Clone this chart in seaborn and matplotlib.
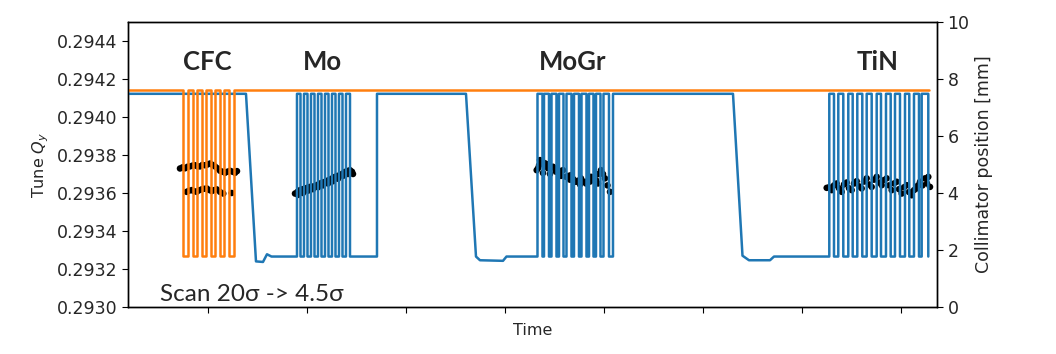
import matplotlib
matplotlib.use("Agg")
import matplotlib.pyplot as plt
from matplotlib.ticker import FormatStrFormatter
import seaborn as sns
import numpy as np

# time axis in arbitrary units (no labels shown on the reference)
TIME_TICKS = [80, 179, 278, 377, 476, 575, 674, 773]

# collimator positions [mm]
BLUE_OUT = 7.48
BLUE_IN = 1.77
ORANGE_OUT = 7.6
ORANGE_IN = 1.79

# orange jaw (CFC scan): switching times
cfc_edges = [55, 60, 65, 69.5, 74, 78.5, 83, 87.5, 92, 96, 101, 106]
orange_end = 801

# blue jaw: anchor points between scans and switching times during scans
blue_pre = [(0, 7.48), (118, 7.48), (128, 1.6), (135, 1.58), (139, 1.85), (143.5, 1.77)]
mo_edges = [169, 172.5, 176, 179.5, 183, 186.5, 190, 193.5, 197, 200.5, 204, 207.5,
            211, 214.5, 218, 222]
blue_mid1 = [(249, 1.77), (249, 7.48), (338, 7.48), (348, 1.77), (352, 1.64),
             (375, 1.62), (378.5, 1.77)]
mogr_edges = [409.5, 414.5, 416, 421, 423.5, 428.5, 431, 435.5, 438.5, 443.5, 446,
              451, 453.5, 458.5, 461, 465.5, 468, 472.5, 475.5, 481, 485]
blue_mid2 = [(605, 7.48), (614.5, 1.8), (618.5, 1.7), (621, 1.64), (642, 1.64),
             (646, 1.77)]
tin_edges = [701.3, 706, 710.3, 715.3, 720.3, 724.7, 729.3, 734.3, 738.7, 743.7,
             748.7, 753, 758, 762.7, 767, 772, 777, 781.3, 786, 791, 793.7, 800.3]

# measured tune Qy
cfc_t = [52, 54.5, 57, 59.5, 62, 64.5, 67, 69.5, 72, 74.5, 77, 79.5, 82, 84.5, 87,
         89.5, 92, 94.5, 97, 99.5, 102, 104.5, 107, 109,
         58.7, 61, 63.7, 66, 68.7, 71, 73.7, 76, 78.7, 81, 83.7, 86, 88.7, 92, 95.3,
         103.7]
cfc_q = [0.293729, 0.293735, 0.29373, 0.293738, 0.29374, 0.293744, 0.293746, 0.293740,
         0.29374, 0.293748, 0.293746, 0.293750, 0.293755, 0.293748, 0.29374, 0.293730,
         0.293717, 0.293712, 0.293706, 0.293712, 0.293717, 0.293712, 0.293706,
         0.293715,
         0.293606, 0.293612, 0.293615, 0.293610, 0.293606, 0.293614, 0.293619,
         0.293622, 0.293624, 0.293616, 0.293610, 0.293615, 0.293619, 0.293606,
         0.293597, 0.293600]
mo_t = [167, 169.5, 172, 174.5, 177, 179.5, 182, 184.5, 187, 189.5, 192, 194.5, 197,
        199.5, 202, 204.5, 207, 209.5, 212, 214.5, 217, 219.5, 222, 224, 225,
        170, 175, 180, 185, 190, 195, 200, 205, 210, 215, 220]
mo_q = [0.293597, 0.293606, 0.293615, 0.293620, 0.293624, 0.293628, 0.293632,
        0.293634, 0.293636, 0.293643, 0.29365, 0.293655, 0.293659, 0.293665,
        0.293671, 0.293678, 0.293685, 0.293690, 0.293694, 0.293702, 0.293711,
        0.293716, 0.29372, 0.293712, 0.293700,
        0.293590, 0.293600, 0.293612, 0.293620, 0.293630, 0.293640, 0.293650,
        0.293662, 0.293675, 0.293690, 0.293700]
mogr_t = [408.7, 410, 412, 414.5, 417, 420, 422.5, 425, 427.5, 430, 432.5, 435, 438,
          440.5, 443, 445.5, 448, 450.5, 453, 455.5, 458, 460.5, 463, 465.5, 468,
          470.5, 473, 475, 477, 479.5, 482, 411, 415, 418.5, 422, 428, 433, 442, 452,
          462, 470]
mogr_q = [0.29372, 0.293730, 0.293773, 0.293765, 0.293756, 0.29373, 0.293735,
          0.293738, 0.293720, 0.293711, 0.293716, 0.29372, 0.293685, 0.293690,
          0.293694, 0.293672, 0.293659, 0.293665, 0.293677, 0.293660, 0.29365,
          0.293668, 0.293685, 0.293675, 0.293668, 0.293700, 0.29372, 0.293700,
          0.293677, 0.293640, 0.293606,
          0.293745, 0.293705, 0.293752, 0.293700, 0.293712, 0.293690, 0.293670,
          0.293645, 0.293660, 0.293650]
tin_t = [698.7, 701, 703.7, 706, 708.7, 711, 713.7, 716, 718.7, 721, 723.7, 726,
         728.7, 731, 733.7, 736, 738.7, 741, 743.7, 746, 748.7, 751, 753.7, 756,
         758.7, 761, 763.7, 766, 768.7, 771, 773.7, 776, 778.7, 781, 783.7, 786,
         788.7, 790, 792, 794.5, 797, 799, 800.3, 802]
tin_q = [0.293627, 0.293630, 0.293615, 0.293640, 0.29365, 0.293625, 0.293606,
         0.293645, 0.293655, 0.293625, 0.293615, 0.293650, 0.293662, 0.293635,
         0.293624, 0.293660, 0.293677, 0.293645, 0.293632, 0.293670, 0.293685,
         0.293655, 0.293641, 0.293668, 0.293677, 0.293640, 0.293615, 0.293650,
         0.293659, 0.293620, 0.293597, 0.293630, 0.293641, 0.293605, 0.293588,
         0.293615, 0.293624, 0.293640, 0.293659, 0.293640, 0.293677, 0.293650,
         0.293685, 0.293632]

materials = ["CFC", "Mo", "MoGr", "TiN"]
material_t = [79, 194, 445, 750]


def add_points(t, v, pts):
    for a, b in pts:
        t.append(a)
        v.append(b)


def add_steps(t, v, edges, first, second):
    level, other = first, second
    for e in edges:
        t += [e, e]
        v += [level, other]
        level, other = other, level


blue_t, blue_v = [], []
add_points(blue_t, blue_v, blue_pre)
add_steps(blue_t, blue_v, mo_edges, BLUE_IN, BLUE_OUT)
add_points(blue_t, blue_v, blue_mid1)
add_steps(blue_t, blue_v, mogr_edges, BLUE_IN, BLUE_OUT)
add_points(blue_t, blue_v, blue_mid2)
add_steps(blue_t, blue_v, tin_edges, BLUE_IN, BLUE_OUT)

orange_t, orange_v = [0], [ORANGE_OUT]
add_steps(orange_t, orange_v, cfc_edges, ORANGE_OUT, ORANGE_IN)
orange_t.append(orange_end)
orange_v.append(ORANGE_OUT)

sns.set_style("ticks")
plt.rcParams['font.family'] = ['DejaVu Sans']

fig = plt.figure(figsize=(10.56, 3.54), dpi=100)
ax = fig.add_axes([0.1212, 0.1328, 0.7661, 0.8051])
ax2 = ax.twinx()

tune_t = cfc_t + mo_t + mogr_t + tin_t
tune_q = cfc_q + mo_q + mogr_q + tin_q
sns.scatterplot(x=tune_t, y=tune_q, ax=ax, color="black", s=22, edgecolor="none",
                legend=False)

sns.lineplot(x=blue_t, y=blue_v, ax=ax2, sort=False, estimator=None,
             color="#1f77b4", linewidth=1.8)
sns.lineplot(x=orange_t, y=orange_v, ax=ax2, sort=False, estimator=None,
             color="#ff7f0e", linewidth=1.8)

ax.set_xlim(0, 809)
ax.set_ylim(0.2930, 0.2945)
ax.set_yticks(np.arange(0.2930, 0.29445, 0.0002))
ax.yaxis.set_major_formatter(FormatStrFormatter('%.4f'))
ax.set_xticks(TIME_TICKS)
ax.set_xticklabels([])
ax.set_xlabel("Time", fontsize=11.5)
ax.set_ylabel("Tune $Q_y$", fontsize=11.5)
ax.tick_params(labelsize=12.5, length=4, color="black")

ax2.set_ylim(0, 10)
ax2.set_yticks([0, 2, 4, 6, 8, 10])
ax2.set_ylabel("Collimator position [mm]", fontsize=12.5)
ax2.tick_params(labelsize=12.5, length=4, color="black")

for spine in list(ax.spines.values()) + list(ax2.spines.values()):
    spine.set_color("black")
    spine.set_linewidth(1.0)

for name, t in zip(materials, material_t):
    ax2.text(t, 8.6, name, ha="center", va="center", fontsize=18.5,
             fontweight="bold", family="Lato")

ax2.text(32, 0.2, "Scan 20\u03c3 -> 4.5\u03c3", ha="left", va="baseline",
         fontsize=17.5, family=["Lato", "DejaVu Sans"])

fig.savefig("out.png", dpi=100)
